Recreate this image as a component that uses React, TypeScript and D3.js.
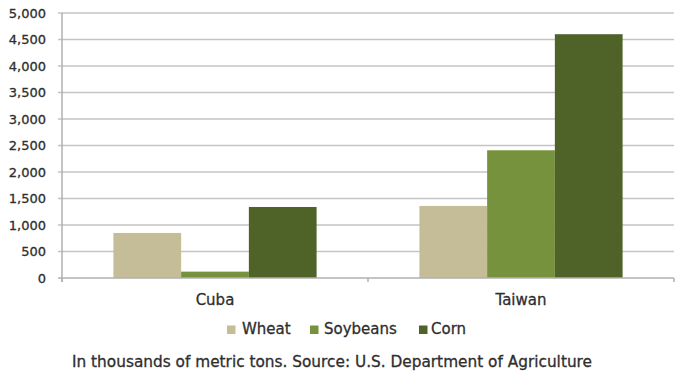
import React from "react";
import * as d3 from "d3";

const categories = ["Cuba", "Taiwan"];
const seriesNames = ["Wheat", "Soybeans", "Corn"];
const wheat = [850, 1360];
const soybeans = [120, 2410];
const corn = [1340, 4600];
const yTicks = [0, 500, 1000, 1500, 2000, 2500, 3000, 3500, 4000, 4500, 5000];
const colors = ["#C4BD97", "#76923C", "#4F6228"];
const caption = "In thousands of metric tons. Source: U.S. Department of Agriculture";

const W = 678, H = 381;
const left = 62, right = 674, top = 13, bottom = 278;
const font = "'DejaVu Sans', sans-serif";
const textColor = "#2e2e2e";

export default function App() {
  const values = [wheat, soybeans, corn];
  const x0 = d3.scaleBand<string>().domain(categories).range([left, right]).paddingInner(0).paddingOuter(0);
  const bw = x0.bandwidth();
  const x1 = d3.scaleBand<string>().domain(seriesNames).range([bw * 0.168, bw * 0.832]).padding(0);
  const y = d3.scaleLinear().domain([0, 5000]).range([bottom, top]);
  const fmt = d3.format(",");

  const legendItems = [
    { name: "Wheat", sx: 227, tx: 242 },
    { name: "Soybeans", sx: 310, tx: 324 },
    { name: "Corn", sx: 419, tx: 431 },
  ];
  const textStyle = { stroke: textColor, strokeWidth: 0.3 };

  return (
    <svg width={W} height={H} style={{ position: "absolute", left: 0, top: 0, background: "#fff" }}>
      <rect x={0} y={0} width={W} height={H} fill="#fff" />
      {yTicks.map((t) => (
        <g key={t}>
          {t > 0 && (
            <line x1={left - 4} x2={right} y1={y(t)} y2={y(t)} stroke="#c4c4c4" strokeWidth={1.5} />
          )}
          {t === 0 && <line x1={left - 4} x2={left} y1={y(t)} y2={y(t)} stroke="#b0b0b0" strokeWidth={1.5} />}
          <text x={46} y={y(t)} dy="0.36em" textAnchor="end" fontFamily={font} fontSize={13} fill={textColor} style={textStyle}>
            {fmt(t)}
          </text>
        </g>
      ))}
      {categories.map((c, ci) =>
        seriesNames.map((s, si) => (
          <rect
            key={c + s}
            x={(x0(c) as number) + (x1(s) as number)}
            y={y(values[si][ci])}
            width={x1.bandwidth()}
            height={y(0) - y(values[si][ci])}
            fill={colors[si]}
          />
        ))
      )}
      <line x1={left} x2={left} y1={top} y2={bottom + 4} stroke="#b0b0b0" strokeWidth={1.5} />
      <line x1={left} x2={right} y1={bottom} y2={bottom} stroke="#b0b0b0" strokeWidth={1.5} />
      {[left, left + bw, right].map((tx, i) => (
        <line key={i} x1={tx} x2={tx} y1={bottom} y2={bottom + 4} stroke="#b0b0b0" strokeWidth={1.5} />
      ))}
      {categories.map((c) => (
        <text
          key={c}
          x={(x0(c) as number) + bw / 2}
          y={305}
          textAnchor="middle"
          fontFamily={font}
          fontSize={15}
          fill={textColor}
          style={textStyle}
        >
          {c}
        </text>
      ))}
      {legendItems.map((li, i) => (
        <g key={li.name}>
          <rect x={li.sx} y={325.5} width={8.5} height={8.5} fill={colors[i]} />
          <text x={li.tx} y={334} fontFamily={font} fontSize={15} fill={textColor} style={textStyle}>
            {li.name}
          </text>
        </g>
      ))}
      <text
        x={72}
        y={367}
        fontFamily={font}
        fontSize={15}
        fill={textColor}
        style={textStyle}
        textLength={520}
        lengthAdjust="spacingAndGlyphs"
      >
        {caption}
      </text>
    </svg>
  );
}
